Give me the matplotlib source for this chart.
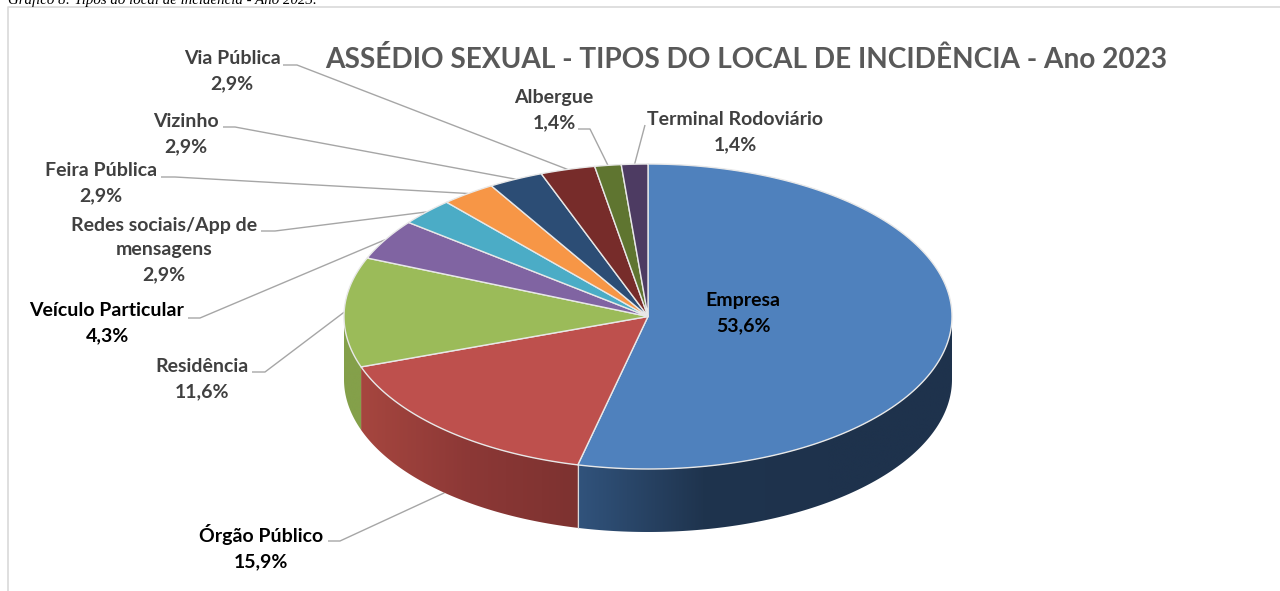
import numpy as np
import matplotlib

matplotlib.use("Agg")
import matplotlib.pyplot as plt
from matplotlib.colors import LinearSegmentedColormap
from matplotlib.patches import Polygon

categories = [
    "Empresa", "Órgão Público", "Residência", "Veículo Particular",
    "Redes sociais/App de\nmensagens", "Feira Pública", "Vizinho",
    "Via Pública", "Albergue", "Terminal Rodoviário",
]
values = [53.6, 15.9, 11.6, 4.3, 2.9, 2.9, 2.9, 2.9, 1.4, 1.4]
top_colors = [
    "#4f81bd", "#be504d", "#9bbb59", "#8064a2", "#4bacc6",
    "#f79646", "#2c4d75", "#772c2a", "#5f7530", "#4d3b62",
]
side_ramps = [
    ["#31537c", "#1f344e", "#1e324c", "#1e324c"],
    ["#a6463f", "#8c3836", "#7d3230"],
    ["#84a04a", "#84a04a"],
]
title = "ASSÉDIO SEXUAL - TIPOS DO LOCAL DE INCIDÊNCIA - Ano 2023"
caption = "Gráfico 8: Tipos do local de incidência - Ano 2023."

CX, CY, RX, RY, DEPTH = 648, 316.5, 304, 152.5, 63
FONT = "Lato"
GREY = "#404040"

# label centre, elbow pair start, whether the leader lands on the lower rim
label_pos = [(743, 313), (261, 547), (202, 379), (107, 323), (164, 250),
             (101, 183), (186, 134), (232, 71), (554, 110), (735, 132)]
leader_start = [None, (328, 541), (252, 372), (188, 318), (261, 231),
                (161, 177), (223, 127), (283, 65), (578, 129), (645, 125)]
leader_elbow = [None, (340, 541), (265, 372), (200, 318), (275, 231),
                (175, 177), (235, 127), (297, 65), (590, 129), (645, 125)]
on_side = [False, True, False, False, False, False, False, False, False, False]
dark_text = [True, True, False, True, False, False, False, False, False, False]


def rim(theta_deg, dy=0):
    t = np.radians(theta_deg)
    return CX + RX * np.sin(t), CY - RY * np.cos(t) + dy


fig = plt.figure(figsize=(12.8, 5.91), dpi=100)
ax = fig.add_axes([0, 0, 1, 1])
ax.axis("off")

edges = np.concatenate([[0], np.cumsum(values)]) / sum(values) * 360

# leaders go under the pie
for i, (start, elbow) in enumerate(zip(leader_start, leader_elbow)):
    if start is None:
        continue
    mid = (edges[i] + edges[i + 1]) / 2
    end = rim(mid, DEPTH if on_side[i] else 0)
    ax.plot([start[0], elbow[0], end[0]], [start[1], elbow[1], end[1]],
            color="#a6a6a6", lw=1.0, zorder=1, solid_capstyle="butt")

# front wall, only the part of each slice between 90 and 270 degrees
for i, ramp in enumerate(side_ramps):
    a0, a1 = max(edges[i], 90), min(edges[i + 1], 270)
    th = np.linspace(a0, a1, 120)
    x, y = rim(th)
    pts = np.r_[np.c_[x, y], np.c_[x[::-1], y[::-1] + DEPTH]]
    cmap = LinearSegmentedColormap.from_list(f"ramp{i}", ramp)
    # ramp runs left to right on screen
    im = ax.imshow(np.linspace(0, 1, 256)[None, :], cmap=cmap, aspect="auto",
                   extent=[x.min(), x.max(), y.max() + DEPTH, y.min()], zorder=2,
                   interpolation="bilinear")
    im.set_clip_path(Polygon(pts, transform=ax.transData))

# seam between blue and red on the wall
sx, sy = rim(edges[1])
ax.plot([sx, sx], [sy, sy + DEPTH], color="#d9d9d9", lw=0.8, zorder=3)

# top face
for i, color in enumerate(top_colors):
    th = np.linspace(edges[i], edges[i + 1], 160)
    x, y = rim(th)
    pts = np.r_[[[CX, CY]], np.c_[x, y]]
    ax.add_patch(Polygon(pts, closed=True, facecolor=color, edgecolor="#e8e8e8",
                         lw=1.0, zorder=4, joinstyle="round"))

for i, name in enumerate(categories):
    pct = f"{values[i]:.1f}".replace(".", ",") + "%"
    ax.text(label_pos[i][0], label_pos[i][1], f"{name}\n{pct}", ha="center", va="center",
            family=FONT, weight="bold", fontsize=14, linespacing=1.57,
            color="black" if dark_text[i] else GREY, zorder=6)

ax.text(746, 60, title, ha="center", va="center", family=FONT, weight="bold",
        fontsize=20.15, color="#595959", zorder=6)
ax.text(8, 0, caption, ha="left", va="center", family="Liberation Serif", style="italic",
        fontsize=10.7, color="black", zorder=6)

# chart frame, runs off the crop at the bottom
ax.plot([8, 8, 1280], [591, 7, 7], color="#d9d9d9", lw=1.2, zorder=0)

ax.set_xlim(0, 1280)
ax.set_ylim(591, 0)
fig.savefig("out.png", dpi=100)
